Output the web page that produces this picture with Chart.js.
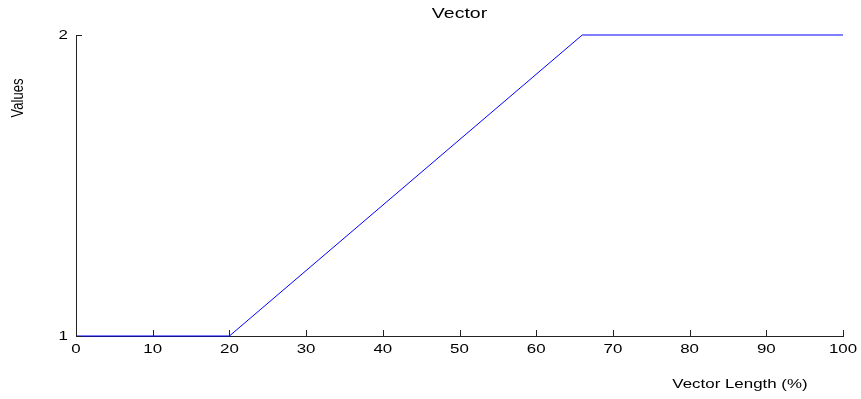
<!DOCTYPE html>
<html>
<head>
<meta charset="utf-8">
<script src="https://cdn.jsdelivr.net/npm/chart.js@4"></script>
<style>
  html, body { margin: 0; padding: 0; background: #fff; }
  #wrap { width: 861px; height: 399px; }
</style>
</head>
<body>
<div id="wrap"><canvas id="chart" width="861" height="399"></canvas></div>
<script>
// values
const vectorLength = [0, 20, 66, 100];
const values = [1, 1, 2, 2];
const xTicks = [0, 10, 20, 30, 40, 50, 60, 70, 80, 90, 100];
const yTicks = [1, 2];

const FONT = "'Liberation Sans', Arial, sans-serif";
// the original figure looks stretched sideways, so text is widened a bit
const STRETCH = 1.3;

function wideText(ctx, text, x, y, size, align) {
    ctx.save();
    ctx.font = size + 'px ' + FONT;
    ctx.textAlign = align;
    ctx.textBaseline = 'middle';
    ctx.translate(x, y);
    ctx.scale(STRETCH, 1);
    ctx.fillText(text, 0, 0);
    ctx.restore();
}

// MATLAB style: ticks point inward, labels and titles drawn here
const matlabAxes = {
    id: 'matlabAxes',
    afterDraw(chart) {
        const ctx = chart.ctx;
        const x = chart.scales.x, y = chart.scales.y;
        const area = chart.chartArea;
        ctx.save();
        ctx.strokeStyle = '#222';
        ctx.lineWidth = 1;
        ctx.beginPath();
        xTicks.forEach(v => {
            const px = Math.round(x.getPixelForValue(v)) + 0.5;
            ctx.moveTo(px, area.bottom);
            ctx.lineTo(px, area.bottom - 6);
        });
        yTicks.forEach(v => {
            const py = Math.round(y.getPixelForValue(v)) + 0.5;
            ctx.moveTo(area.left, py);
            ctx.lineTo(area.left + 6, py);
        });
        ctx.stroke();

        ctx.fillStyle = '#000';
        xTicks.forEach(v => wideText(ctx, String(v), x.getPixelForValue(v), area.bottom + 13.5, 13, 'center'));
        yTicks.forEach(v => wideText(ctx, String(v), area.left - 8, y.getPixelForValue(v), 13, 'right'));

        wideText(ctx, 'Vector', (area.left + area.right) / 2, 14, 15, 'center');
        wideText(ctx, 'Vector Length (%)', 740, 384, 13, 'center');

        ctx.font = '13px ' + FONT;
        ctx.textAlign = 'center';
        ctx.textBaseline = 'middle';
        ctx.translate(18, 98);
        ctx.rotate(-Math.PI / 2);
        ctx.scale(1, STRETCH);
        ctx.fillText('Values', 0, 0);
        ctx.restore();
    }
};

new Chart(document.getElementById('chart'), {
    type: 'line',
    data: {
        datasets: [{
            data: vectorLength.map((v, i) => ({ x: v, y: values[i] })),
            borderColor: '#0000ff',
            borderWidth: 1,
            pointRadius: 0,
            tension: 0,
            fill: false,
            clip: false
        }]
    },
    options: {
        responsive: false,
        animation: false,
        layout: { padding: { left: 0, right: 18, top: 35, bottom: 0 } },
        plugins: {
            legend: { display: false },
            tooltip: { enabled: false },
            title: { display: false }
        },
        scales: {
            x: {
                type: 'linear',
                min: 0,
                max: 100,
                afterFit(s) { s.height = 63; },
                afterBuildTicks(s) { s.ticks = xTicks.map(v => ({ value: v })); },
                grid: { display: false, drawTicks: false },
                border: { display: true, color: '#222', width: 1 },
                ticks: { display: false }
            },
            y: {
                type: 'linear',
                min: 1,
                max: 2,
                afterFit(s) { s.width = 76; },
                afterBuildTicks(s) { s.ticks = yTicks.map(v => ({ value: v })); },
                grid: { display: false, drawTicks: false },
                border: { display: true, color: '#222', width: 1 },
                ticks: { display: false }
            }
        }
    },
    plugins: [matlabAxes]
});
</script>
</body>
</html>
